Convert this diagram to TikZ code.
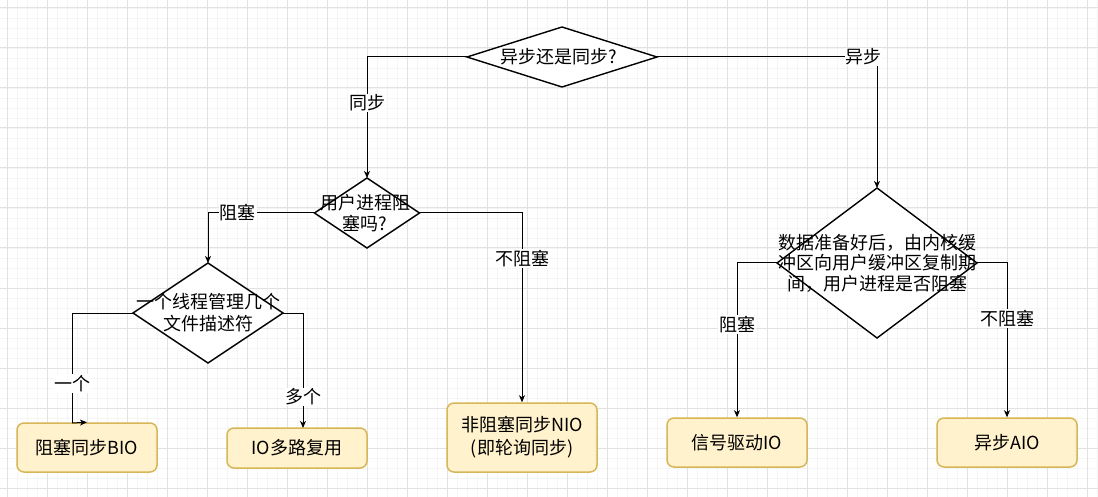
\documentclass[tikz,border=0pt]{standalone}
\usepackage{fontspec}
\setmainfont{Noto Sans CJK SC}
\usetikzlibrary{arrows.meta,shapes.geometric}
\definecolor{boxfill}{HTML}{FFF2CC}
\definecolor{boxline}{HTML}{D6B656}
\definecolor{gridmajor}{HTML}{E2E2E2}
\definecolor{gridminor}{HTML}{F5F5F5}
\begin{document}
\begin{tikzpicture}[x=1pt,y=-1pt,
  dia/.style={diamond, draw=black, line width=1.4pt, inner sep=0pt, outer sep=0pt, fill=white},
  boxnode/.style={draw=boxline, fill=boxfill, rounded corners=7pt, line width=1.5pt, align=center, inner sep=0pt, font=\fontsize{18}{23}\selectfont},
  txt/.style={align=center, inner sep=0pt, font=\fontsize{18}{21}\selectfont},
  lbl/.style={fill=white, inner sep=1pt, font=\fontsize{18}{20}\selectfont},
  conn/.style={line width=1pt, -{Stealth[length=7pt,width=6pt,inset=2pt]}}]
\useasboundingbox (0,0) rectangle (1098,497);
% grid
\foreach \x in {7,17,...,1097} \draw[gridminor, line width=0.8pt] (\x,0) -- (\x,497);
\foreach \y in {8,18,...,488} \draw[gridminor, line width=0.8pt] (0,\y) -- (1098,\y);
\foreach \x in {7,47,...,1087} \draw[gridmajor, line width=1pt] (\x,0) -- (\x,497);
\foreach \y in {8,48,...,488} \draw[gridmajor, line width=1pt] (0,\y) -- (1098,\y);

% diamonds
\node[dia, minimum width=190pt, minimum height=60pt] (d1) at (562,57) {};
\node[txt] (t1) at (559,57) {异步还是同步?};
\node[dia, minimum width=105pt, minimum height=70pt] (d2) at (367,213) {};
\node[txt] (t2) at (365,213) {用户进程阻\\塞吗?};
\node[dia, minimum width=150pt, minimum height=100pt] (d4) at (208,313) {};
\node[txt, font=\fontsize{18}{22}\selectfont] (t4) at (208,313) {一个线程管理几个\\文件描述符};
\node[dia, minimum width=200pt, minimum height=150pt] (d3) at (877,263) {};
\node[txt, font=\fontsize{18}{20.5}\selectfont] (t3) at (877,263) {数据准备好后，由内核缓\\冲区向用户缓冲区复制期\\间，用户进程是否阻塞};

% result boxes
\node[boxnode, minimum width=140pt, minimum height=49pt] (bio) at (87,447.5) {阻塞同步BIO};
\node[boxnode, minimum width=140pt, minimum height=40pt] (io) at (297,448) {IO多路复用};
\node[boxnode, minimum width=150pt, minimum height=69pt] (nio) at (522,437.5) {非阻塞同步NIO\\(即轮询同步)};
\node[boxnode, minimum width=140pt, minimum height=49pt] (sig) at (737,442.5) {信号驱动IO};
\node[boxnode, minimum width=140pt, minimum height=49pt] (aio) at (1007,442.5) {异步AIO};

% helper coordinates
\coordinate (k1) at (72,423);
\coordinate (k2) at (303,428);

% connectors
\draw[conn] (d1.west) -| node[lbl, pos=0.69] {同步} (d2.north);
\draw[conn] (d1.east) -| node[lbl, pos=0.47] {异步} (d3.north);
\draw[conn] (d2.west) -| node[lbl, pos=0.36] {阻塞} (d4.north);
\draw[conn] (d2.east) -| node[lbl, pos=0.62] {不阻塞} (nio.north);
\draw[line width=1pt] (d4.west) -| node[lbl, pos=0.82] {一个} (k1);
\draw[conn] (k1) -- (bio.north);
\draw[conn] (d4.east) -| node[lbl, pos=0.865] {多个} (k2);
\draw[conn] (d3.west) -| node[lbl, pos=0.7] {阻塞} (sig.north);
\draw[conn] (d3.east) -| node[lbl, pos=0.68] {不阻塞} (aio.north);
\end{tikzpicture}
\end{document}
